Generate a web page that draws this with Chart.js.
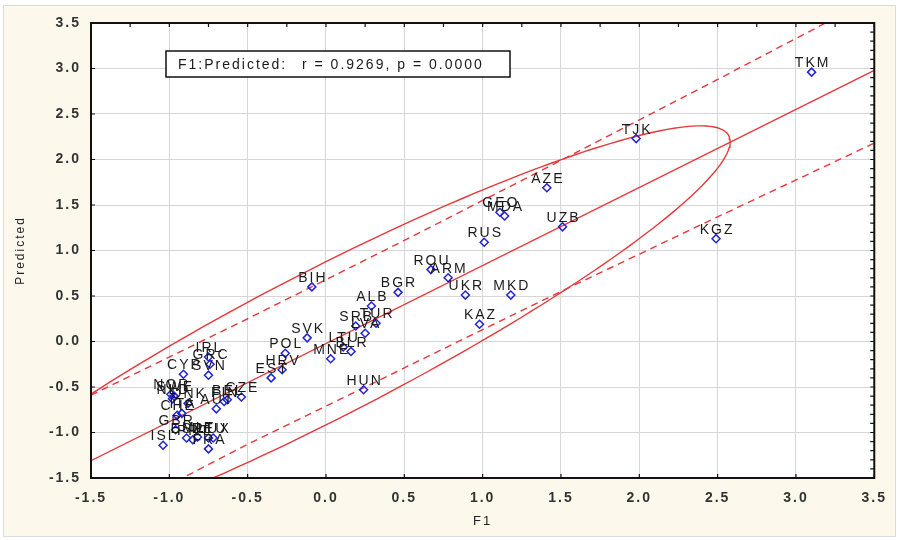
<!DOCTYPE html>
<html><head><meta charset="utf-8">
<script src="https://cdn.jsdelivr.net/npm/chart.js@4"></script>
<style>html,body{margin:0;padding:0;background:#fff;}canvas{display:block;}</style>
</head><body>
<canvas id="c" width="899" height="540"></canvas>
<script>
// ---- data ----
const countries = ['TKM','TJK','KGZ','AZE','GEO','MDA','UZB','RUS','ROU','ARM','BIH','BGR','UKR','MKD','ALB','KAZ','TUR','SRB','LVA','LTU','SVK','POL','HRV','EST','MNE','BLR','HUN','IRL','GRC','CYP','SVN','NOR','SWE','NLD','DNK','AUT','FIN','BEL','CZE','ITA','CHE','GBR','ISL','ESP','PRT','MLT','DEU','LUX','FRA'];
const f1Values = [3.10,1.98,2.49,1.41,1.11,1.14,1.51,1.01,0.67,0.78,-0.09,0.46,0.89,1.18,0.29,0.98,0.32,0.19,0.25,0.11,-0.12,-0.26,-0.28,-0.35,0.03,0.16,0.24,-0.75,-0.74,-0.91,-0.75,-0.99,-0.97,-0.98,-0.88,-0.70,-0.65,-0.63,-0.54,-0.92,-0.95,-0.96,-1.04,-0.89,-0.85,-0.82,-0.75,-0.72,-0.75];
const predictedValues = [2.96,2.23,1.13,1.69,1.42,1.38,1.26,1.09,0.79,0.70,0.60,0.54,0.51,0.51,0.39,0.19,0.20,0.17,0.09,-0.06,0.04,-0.13,-0.31,-0.40,-0.19,-0.11,-0.53,-0.17,-0.25,-0.36,-0.37,-0.58,-0.60,-0.63,-0.68,-0.74,-0.66,-0.64,-0.61,-0.79,-0.81,-0.97,-1.14,-1.06,-1.08,-1.05,-1.06,-1.06,-1.18];
const xTickValues = [-1.5,-1.0,-0.5,0.0,0.5,1.0,1.5,2.0,2.5,3.0,3.5];
const yTickValues = [-1.5,-1.0,-0.5,0.0,0.5,1.0,1.5,2.0,2.5,3.0,3.5];
const regressionX = [-1.5, 3.5];
const regressionY = [-1.31, 2.98];
const bandX = [-1.5,-0.5,0.5,1.5,2.5,3.5];
const bandUpper = [-0.59,0.25,1.11,1.99,2.88,3.78];
const bandLower = [-2.02,-1.13,-0.29,0.55,1.37,2.18];
const ellipseCenter = [0.0, -0.02];
const ellipseSemiX = 2.58;
const ellipseSemiY = 2.39;
const ellipseR = 0.9269;
const statLabel = 'F1:Predicted:';
const statValue = 'r = 0.9269, p = 0.0000';
const xTitle = 'F1';
const yTitle = 'Predicted';

// ---- build datasets ----
const pts = countries.map((c,i)=>({x:f1Values[i], y:predictedValues[i]}));
const regPts = regressionX.map((x,i)=>({x, y:regressionY[i]}));
const upPts = bandX.map((x,i)=>({x, y:bandUpper[i]}));
const loPts = bandX.map((x,i)=>({x, y:bandLower[i]}));
const ellPts = [];
for (let k=0;k<=200;k++){
  const t = 2*Math.PI*k/200;
  ellPts.push({x: ellipseCenter[0] + ellipseSemiX*Math.cos(t),
               y: ellipseCenter[1] + ellipseSemiY*(ellipseR*Math.cos(t) + Math.sqrt(1-ellipseR*ellipseR)*Math.sin(t))});
}
const RED = '#e8373a';
const FONT = '"Liberation Sans", Arial, sans-serif';
const SPACING = '2px';

const setSpacing = (chart)=>{ try{ chart.ctx.letterSpacing = SPACING; }catch(e){} };

const framePlugin = {
  id:'frame',
  beforeLayout(chart){ setSpacing(chart); },
  beforeDraw(chart){
    const ctx = chart.ctx; setSpacing(chart);
    ctx.save();
    ctx.fillStyle = '#ffffff'; ctx.fillRect(0,0,chart.width,chart.height);
    ctx.fillStyle = '#fcf8ec'; ctx.fillRect(3,5,chart.width-6,chart.height-8);
    ctx.strokeStyle = '#dcdcdc'; ctx.lineWidth = 1; ctx.strokeRect(3.5,5.5,chart.width-7,chart.height-9);
    const a = chart.chartArea;
    ctx.fillStyle = '#ffffff'; ctx.fillRect(a.left,a.top,a.right-a.left,a.bottom-a.top);
    ctx.restore();
  },
  afterDatasetsDraw(chart){
    const ctx = chart.ctx; setSpacing(chart);
    const xs = chart.scales.x, ys = chart.scales.y;
    // country labels
    ctx.save();
    ctx.font = '14px ' + FONT;
    ctx.fillStyle = '#1a1a1a';
    ctx.textAlign = 'center';
    ctx.textBaseline = 'alphabetic';
    countries.forEach((c,i)=>{
      const px = xs.getPixelForValue(f1Values[i]);
      const py = ys.getPixelForValue(predictedValues[i]);
      ctx.fillText(c, px+1, py-5);
    });
    ctx.restore();
    // frame & ticks
    const a = chart.chartArea;
    ctx.save();
    ctx.strokeStyle = '#111'; ctx.lineWidth = 2;
    ctx.strokeRect(a.left, a.top, a.right-a.left, a.bottom-a.top);
    ctx.lineWidth = 1.2;
    ctx.beginPath();
    yTickValues.forEach(v=>{ const y = ys.getPixelForValue(v); ctx.moveTo(a.left, y); ctx.lineTo(a.left+4, y); });
    xTickValues.forEach(v=>{ const x = xs.getPixelForValue(v); ctx.moveTo(x, a.bottom); ctx.lineTo(x, a.bottom-4); });
    for (let v=-1.5; v<=3.5001; v+=0.25){ const x = xs.getPixelForValue(v); ctx.moveTo(x, a.top); ctx.lineTo(x, a.top+4); }
    for (let v=-1.5; v<=3.5001; v+=0.1){ const y = ys.getPixelForValue(v); ctx.moveTo(a.right, y); ctx.lineTo(a.right-4, y); }
    ctx.stroke();
    ctx.restore();
    // statistic box
    ctx.save();
    ctx.fillStyle = '#fff';
    ctx.fillRect(166,51,344,26);
    ctx.strokeStyle = '#111'; ctx.lineWidth = 1.5;
    ctx.strokeRect(166,51,344,26);
    ctx.fillStyle = '#1a1a1a';
    ctx.font = '14px ' + FONT;
    ctx.textAlign = 'left'; ctx.textBaseline = 'alphabetic';
    ctx.fillText(statLabel, 178, 69);
    ctx.fillText(statValue, 302, 69);
    ctx.restore();
  }
};

new Chart(document.getElementById('c'), {
  type: 'scatter',
  data: { datasets: [
    { data: ellPts, showLine: true, pointRadius: 0, borderColor: RED, borderWidth: 1.4, fill: false, order: 5 },
    { data: regPts, showLine: true, pointRadius: 0, borderColor: RED, borderWidth: 1.4, order: 4 },
    { data: upPts, showLine: true, pointRadius: 0, borderColor: RED, borderWidth: 1.4, borderDash: [7,5], order: 3 },
    { data: loPts, showLine: true, pointRadius: 0, borderColor: RED, borderWidth: 1.4, borderDash: [7,5], order: 2 },
    { data: pts, pointStyle: 'rectRot', pointRadius: 4, borderColor: '#2424d0', backgroundColor: 'rgba(0,0,0,0)', pointBorderWidth: 1.5, borderWidth: 1.5, order: 1 }
  ]},
  options: {
    responsive: false, animation: false, devicePixelRatio: 1,
    layout: { padding: { left: 0, right: 24, top: 23, bottom: 0 } },
    plugins: { legend: { display: false }, tooltip: { enabled: false } },
    scales: {
      x: {
        type: 'linear', min: -1.5, max: 3.5,
        afterBuildTicks: s => { s.ticks = xTickValues.map(v=>({value:v})); },
        afterFit: s => { s.height = 62; },
        ticks: { callback: v => Number(v).toFixed(1), color: '#333', padding: 12, maxRotation: 0, autoSkip: false, font: { size: 14, weight: 'bold', family: FONT } },
        grid: { color: '#d6d6d6', lineWidth: 1, drawTicks: false },
        border: { display: false },
        title: { display: true, text: xTitle, color: '#222', font: { size: 13, family: FONT }, padding: { top: 4, bottom: 11 } }
      },
      y: {
        type: 'linear', min: -1.5, max: 3.5,
        afterBuildTicks: s => { s.ticks = yTickValues.map(v=>({value:v})); },
        afterFit: s => { s.width = 91; },
        ticks: { callback: v => Number(v).toFixed(1), color: '#333', padding: 10, autoSkip: false, font: { size: 14, weight: 'bold', family: FONT } },
        grid: { color: '#d6d6d6', lineWidth: 1, drawTicks: false },
        border: { display: false },
        title: { display: true, text: yTitle, color: '#222', font: { size: 12, family: FONT }, padding: { top: 13, bottom: 0 } }
      }
    }
  },
  plugins: [framePlugin]
});
</script>
</body></html>
